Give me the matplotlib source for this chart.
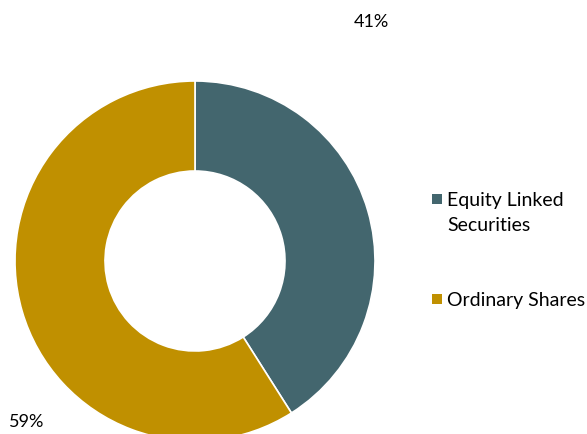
import matplotlib.pyplot as plt
from matplotlib.patches import Rectangle

labels = ["Equity Linked\nSecurities", "Ordinary Shares"]
shares = [41, 59]
colors = ["#43666e", "#c09000"]

plt.rcParams["font.family"] = ["Lato", "DejaVu Sans"]

fig = plt.figure(figsize=(5.87, 4.35), dpi=100)
ax = fig.add_axes([0, 0, 1, 1])

wedges, _ = ax.pie(shares, colors=colors, startangle=90, counterclock=False,
                   center=(195, 173), radius=180,
                   wedgeprops=dict(width=90, edgecolor="white", linewidth=1.2))
ax.set_xlim(0, 587)
ax.set_ylim(0, 435)
ax.set_aspect("equal")
ax.axis("off")

ax.text(371, 413, f"{shares[0]}%", ha="center", va="center", fontsize=13)
ax.text(27, 13, f"{shares[1]}%", ha="center", va="center", fontsize=13)

# legend, drawn by hand so the swatch sits on the first line
leg_y = [235, 135]
for lab, col, y in zip(labels, colors, leg_y):
    ax.add_patch(Rectangle((432, y - 5), 10, 10, facecolor=col, edgecolor="none"))
    ax.text(447, y + 8, lab, ha="left", va="top", fontsize=14, linespacing=1.6)

fig.savefig("out.png", dpi=100)
